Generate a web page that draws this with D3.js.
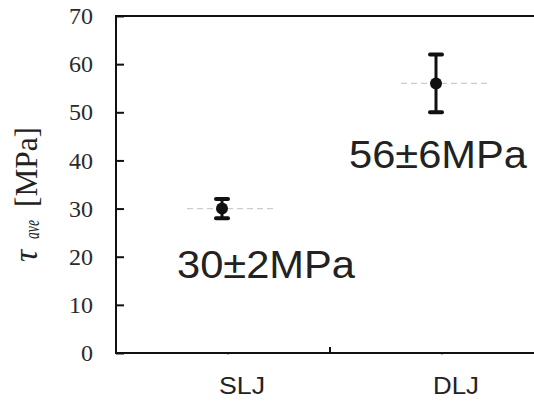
<!DOCTYPE html>
<html>
<head>
<meta charset="utf-8">
<script src="https://cdn.jsdelivr.net/npm/d3@7"></script>
<style>
  body { margin: 0; background: #fff; }
  svg { display: block; }
  .ytick text { font-family: "Liberation Serif", "DejaVu Serif", serif; font-size: 24px; fill: #2a2a2a; }
  .xlab { font-family: "Liberation Sans", Arial, sans-serif; font-size: 24px; fill: #222; }
  .note { font-family: "Liberation Sans", Arial, sans-serif; font-size: 38px; fill: #222; }
  .ttl { font-family: "Liberation Serif", "DejaVu Serif", serif; fill: #222; }
</style>
</head>
<body>
<svg width="534" height="401"></svg>
<script>
// data
const categories = ['SLJ', 'DLJ'];
const means = [30, 56];
const errors = [2, 6];
const notes = ['30±2MPa', '56±6MPa'];
const noteValues = [15.6, 38.4];   // baseline position, in MPa
const yTickValues = [0, 10, 20, 30, 40, 50, 60, 70];

const margin = { left: 116, top: 16, bottom: 48 };
const svg = d3.select('svg');
const width = +svg.attr('width');
const height = +svg.attr('height');

const x = d3.scaleBand()
    .domain(categories)
    .range([margin.left, margin.left + 428])
    .paddingInner(0)
    .paddingOuter(0);

const y = d3.scaleLinear()
    .domain([0, 70])
    .range([height - margin.bottom, margin.top]);

const data = categories.map((c, i) => ({ cat: c, mean: means[i], err: errors[i], note: notes[i], noteY: noteValues[i] }));

// frame (right side is cut off by the picture)
const x0 = margin.left, x1 = margin.left + 440;
svg.append('path')
    .attr('d', `M${x1},${y(70)}H${x0}V${y(0)}H${x1}`)
    .attr('fill', 'none')
    .attr('stroke', '#111')
    .attr('stroke-width', 2);

// y axis ticks and labels
const yAxis = d3.axisLeft(y)
    .tickValues(yTickValues)
    .tickSizeInner(-8)
    .tickSizeOuter(0)
    .tickPadding(23);
const yAxisG = svg.append('g')
    .attr('class', 'ytick')
    .attr('transform', `translate(${margin.left},0)`)
    .call(yAxis);
yAxisG.select('.domain').remove();
yAxisG.selectAll('line').attr('stroke', '#111').attr('stroke-width', 2);
yAxisG.selectAll('text').attr('font-family', null).attr('font-size', null).attr('fill', null);

// category divider tick
svg.append('line')
    .attr('x1', x('DLJ')).attr('x2', x('DLJ'))
    .attr('y1', y(0)).attr('y2', y(0) - 6)
    .attr('stroke', '#111').attr('stroke-width', 2);

// small gray marks under the category centres
svg.selectAll('.cmark')
    .data(data)
    .enter().append('line')
    .attr('x1', d => x(d.cat) + x.bandwidth() / 2 + 5)
    .attr('x2', d => x(d.cat) + x.bandwidth() / 2 + 5)
    .attr('y1', y(0) + 1).attr('y2', y(0) + 2)
    .attr('stroke', '#bbb').attr('stroke-width', 2);

// category labels
svg.selectAll('.xlab')
    .data(data)
    .enter().append('text')
    .attr('class', 'xlab')
    .attr('x', d => x(d.cat) + x.bandwidth() / 2 + 19)
    .attr('y', 394)
    .attr('text-anchor', 'middle')
    .attr('textLength', 46)
    .attr('lengthAdjust', 'spacingAndGlyphs')
    .text(d => d.cat);

// y axis title, rotated; x runs upward along the page
const title = svg.append('g')
    .attr('class', 'ttl')
    .attr('transform', 'translate(37,0) rotate(-90)');
title.append('text')
    .attr('x', -262).attr('y', 0)
    .attr('font-style', 'italic').attr('font-size', 34)
    .text('τ');
title.append('text')
    .attr('x', -239).attr('y', 2)
    .attr('font-style', 'italic').attr('font-size', 21)
    .attr('textLength', 19).attr('lengthAdjust', 'spacingAndGlyphs')
    .text('ave');
title.append('text')
    .attr('x', -207).attr('y', 0)
    .attr('font-size', 32)
    .attr('textLength', 80).attr('lengthAdjust', 'spacingAndGlyphs')
    .text('[MPa]');

// dashed mean lines
svg.selectAll('.mean')
    .data(data)
    .enter().append('line')
    .attr('x1', d => x(d.cat) + x.bandwidth() / 2 - 36)
    .attr('x2', d => x(d.cat) + x.bandwidth() / 2 + 54)
    .attr('y1', d => y(d.mean)).attr('y2', d => y(d.mean))
    .attr('stroke', '#ccc').attr('stroke-width', 1.2)
    .attr('stroke-dasharray', '6,4');

// error bars
const cx = d => x(d.cat) + x.bandwidth() / 2 - 1;
const bars = svg.selectAll('.bar')
    .data(data)
    .enter().append('g');
bars.append('line')
    .attr('x1', cx).attr('x2', cx)
    .attr('y1', d => y(d.mean - d.err)).attr('y2', d => y(d.mean + d.err))
    .attr('stroke', '#111').attr('stroke-width', 3);
bars.selectAll('.cap')
    .data(d => [d.mean - d.err, d.mean + d.err].map(v => ({ cat: d.cat, v: v })))
    .enter().append('line')
    .attr('x1', d => cx(d) - 6).attr('x2', d => cx(d) + 6)
    .attr('y1', d => y(d.v)).attr('y2', d => y(d.v))
    .attr('stroke', '#111').attr('stroke-width', 4)
    .attr('stroke-linecap', 'round');
bars.append('circle')
    .attr('cx', cx)
    .attr('cy', d => y(d.mean))
    .attr('r', 6)
    .attr('fill', '#111');

// value notes
const noteDx = [-46, -88];
svg.selectAll('.note')
    .data(data)
    .enter().append('text')
    .attr('class', 'note')
    .attr('x', (d, i) => x(d.cat) + x.bandwidth() / 2 + noteDx[i])
    .attr('y', d => y(d.noteY))
    .attr('textLength', 178)
    .attr('lengthAdjust', 'spacingAndGlyphs')
    .text(d => d.note);
</script>
</body>
</html>
